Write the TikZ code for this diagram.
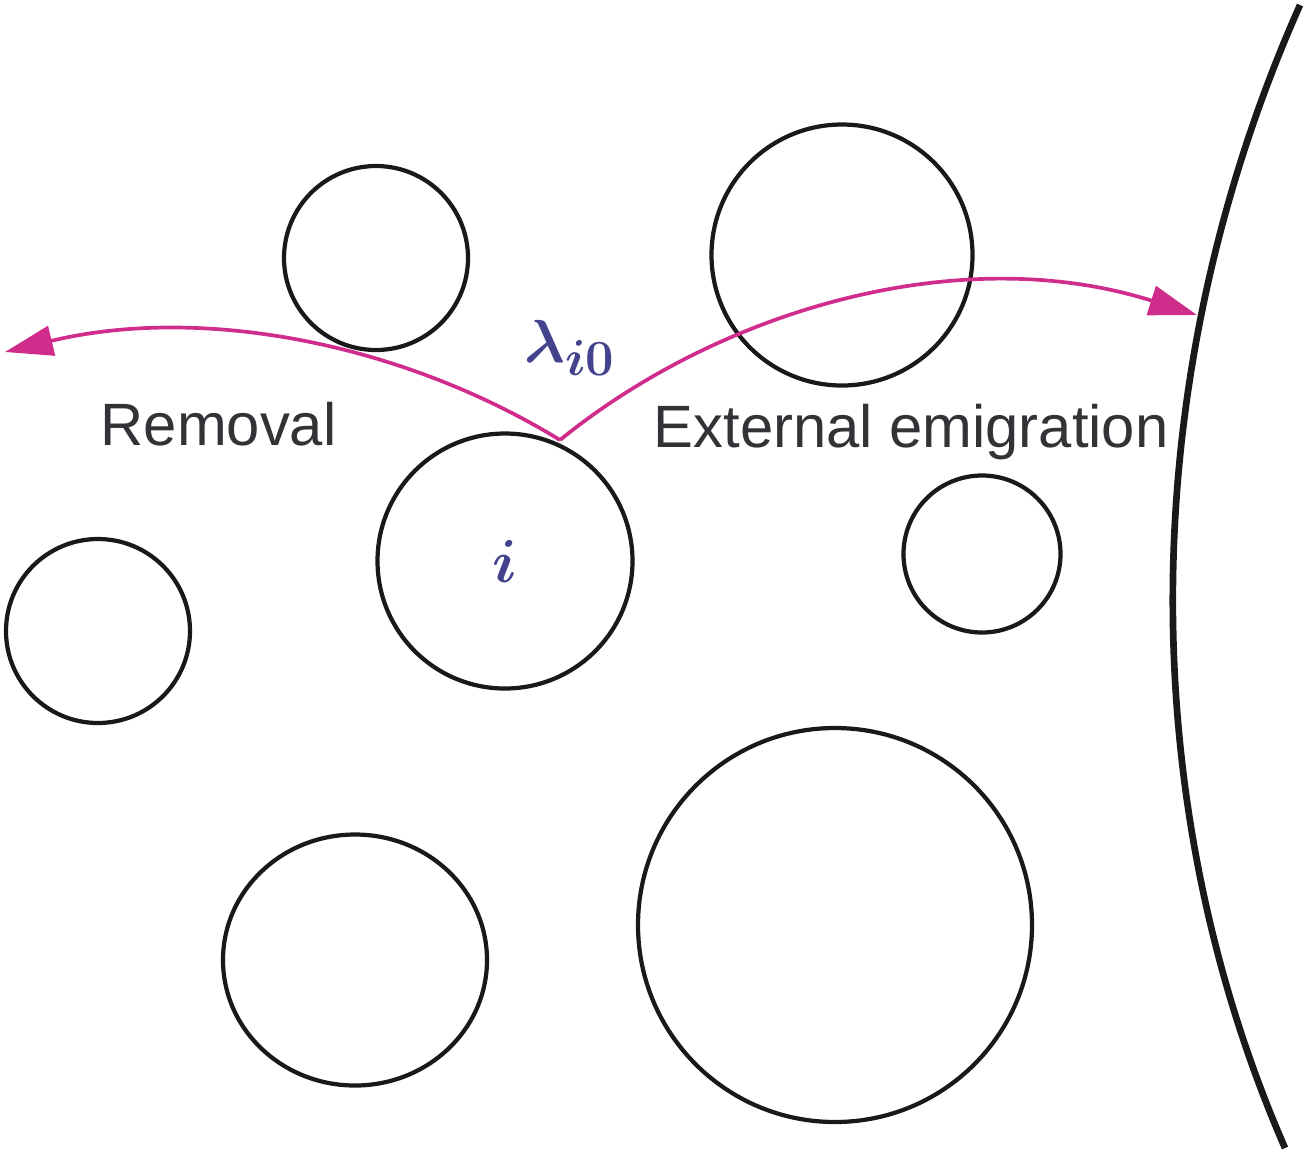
\documentclass[tikz,border=0pt]{standalone}
\usepackage{fontspec}
\setmainfont{Liberation Sans}
\usetikzlibrary{arrows.meta,shapes.geometric}
\definecolor{flowpink}{HTML}{D02C8C}
\definecolor{labelblue}{HTML}{43438D}
\definecolor{textgray}{HTML}{333337}
\tikzset{
  patch/.style={draw=black!90, line width=1.2pt, circle, inner sep=0pt},
  flow/.style={draw=flowpink, line width=1.05pt, -{Triangle[length=4.8mm,width=3mm]}},
  caption/.style={text=textgray, font=\fontsize{17}{20}\selectfont, inner sep=0pt},
  mathlabel/.style={text=labelblue, font=\fontsize{19}{22}\selectfont\boldmath, inner sep=0pt}
}
\begin{document}
\begin{tikzpicture}
  \useasboundingbox (0,0) rectangle (13.05,-11.54);
  % patches
  \node[patch, minimum size=1.84cm] (topleft) at (3.76,-2.58) {};
  \node[patch, minimum size=2.61cm] (topright) at (8.42,-2.55) {};
  \node[patch, minimum size=2.55cm, mathlabel] (focal) at (5.05,-5.61) {$i$};
  \node[patch, minimum size=1.84cm] (left) at (0.98,-6.31) {};
  \node[patch, minimum size=1.57cm] (smallright) at (9.82,-5.54) {};
  \node[patch, ellipse, minimum width=2.64cm, minimum height=2.51cm] (bottomleft) at (3.55,-9.60) {};
  \node[patch, minimum size=3.94cm] (big) at (8.35,-9.25) {};
  % landscape edge
  \draw[black!90, line width=1.9pt] (13.00,-0.05) .. controls (11.33,-3.8) and (11.33,-8.0) .. (12.85,-11.48);
  % flows out of patch i
  \coordinate (apex) at (5.60,-4.40);
  \coordinate (lost) at (0.05,-3.52);
  \coordinate (edge) at (11.97,-3.15);
  \draw[flow] (apex) .. controls (4.0,-3.42) and (2.0,-3.05) .. (lost);
  \draw[flow] (apex) .. controls (7.2,-3.1) and (9.6,-2.4) .. (edge);
  % labels
  \node[mathlabel] (rate) at (5.70,-3.48) {$\lambda_{i0}$};
  \node[caption, anchor=base west] (removal) at (1.00,-4.45) {Removal};
  \node[caption, anchor=base west] (emigration) at (6.53,-4.47) {External emigration};
\end{tikzpicture}
\end{document}
